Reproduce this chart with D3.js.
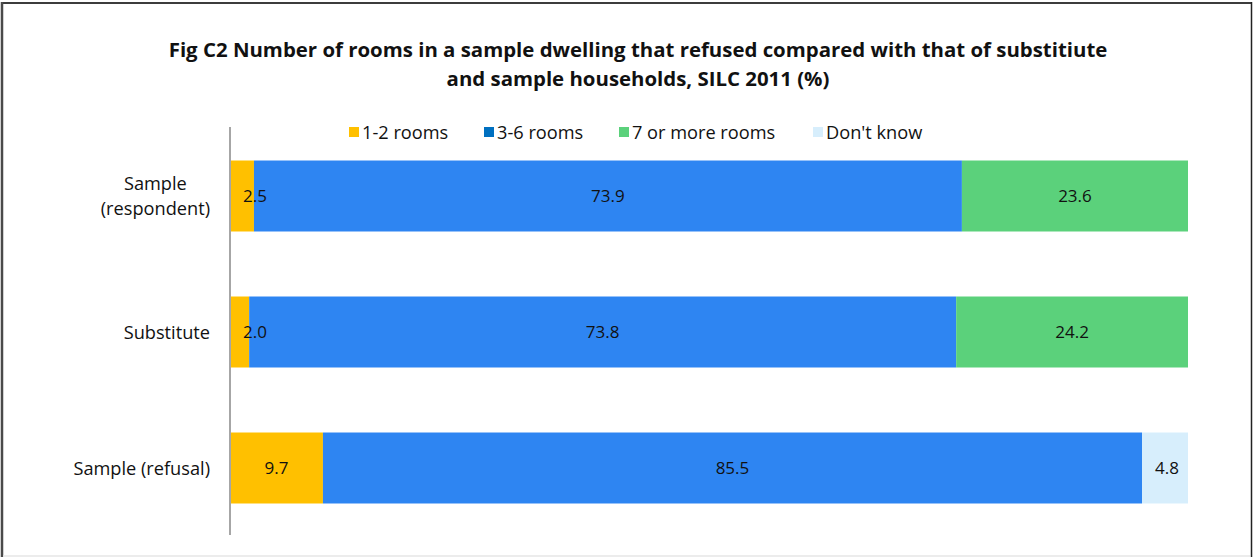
<!DOCTYPE html>
<html>
<head>
<meta charset="utf-8">
<script src="https://cdn.jsdelivr.net/npm/d3@7"></script>
<style>
  html, body { margin: 0; padding: 0; background: #fff; }
  svg { display: block; font-family: "Open Sans", "Noto Sans", sans-serif; }
</style>
</head>
<body>
<svg id="chart" width="1253" height="557"></svg>
<script>
// Categories (top to bottom) and the share of dwellings by number of rooms (%)
const categories = ["Sample\n(respondent)", "Substitute", "Sample (refusal)"];
const seriesNames = ["1-2 rooms", "3-6 rooms", "7 or more rooms", "Don't know"];
const rooms12 = [2.5, 2.0, 9.7];
const rooms36 = [73.9, 73.8, 85.5];
const rooms7plus = [23.6, 24.2, 0];
const dontKnow = [0, 0, 4.8];
const titleLines = [
  "Fig C2 Number of rooms in a sample dwelling that refused compared with that of substitiute",
  "and sample households, SILC 2011 (%)"
];

const barColors = ["#FFC000", "#2E85F2", "#5BD17B", "#D7EEFC"];
const legendColors = ["#FFC000", "#0070C0", "#5BD17B", "#D7EEFC"];

const svg = d3.select("#chart");
const W = 1253, H = 557;

// outer frame
svg.append("rect").attr("x", 0).attr("y", 0).attr("width", W).attr("height", H).attr("fill", "#fff");
svg.append("line").attr("x1", 2).attr("x2", 1252).attr("y1", 3).attr("y2", 3).attr("stroke", "#3c3c3c").attr("stroke-width", 2);
svg.append("line").attr("x1", 2).attr("x2", 2).attr("y1", 2).attr("y2", 557).attr("stroke", "#4a4a4a").attr("stroke-width", 2.5);
svg.append("line").attr("x1", 1251.5).attr("x2", 1251.5).attr("y1", 2).attr("y2", 557).attr("stroke", "#222").attr("stroke-width", 1.5);
svg.append("line").attr("x1", 3).attr("x2", 1250).attr("y1", 556).attr("y2", 556).attr("stroke", "#e6e6e6").attr("stroke-width", 1.5);

// title
svg.append("text")
  .attr("x", 638).attr("y", 57)
  .attr("text-anchor", "middle")
  .attr("font-weight", "bold")
  .attr("font-size", 20.4)
  .attr("fill", "#111")
  .selectAll("tspan").data(titleLines).join("tspan")
  .attr("x", 638)
  .attr("dy", (d, i) => i === 0 ? 0 : 29)
  .text(d => d);

// stacked rows
const rows = categories.map((c, i) => {
  const vals = [rooms12[i], rooms36[i], rooms7plus[i], dontKnow[i]];
  let acc = 0;
  return {
    category: c,
    segments: vals.map((v, k) => {
      const s = { key: seriesNames[k], k, value: v, x0: acc, x1: acc + v };
      acc += v;
      return s;
    })
  };
});

const x = d3.scaleLinear().domain([0, 100]).range([230, 1188]);
const y = d3.scaleBand().domain(categories).range([128, 536])
  .paddingInner(0.478).paddingOuter(0.239);

const rowG = svg.append("g").selectAll("g").data(rows).join("g")
  .attr("transform", d => `translate(0,${y(d.category)})`);

rowG.selectAll("rect").data(d => d.segments.filter(s => s.value > 0)).join("rect")
  .attr("x", s => x(s.x0))
  .attr("width", s => x(s.x1) - x(s.x0))
  .attr("y", 0)
  .attr("height", y.bandwidth())
  .attr("fill", s => barColors[s.k]);

// value labels: centred in each segment, kept clear of the axis for thin segments
rowG.selectAll("text").data(d => d.segments.filter(s => s.value > 0)).join("text")
  .attr("x", s => Math.max((x(s.x0) + x(s.x1)) / 2, x(s.x0) + 25))
  .attr("y", y.bandwidth() / 2 + 6)
  .attr("text-anchor", "middle")
  .attr("font-size", 17)
  .attr("fill", "#111")
  .text(s => s.value.toFixed(1));

// vertical category axis
const yAxis = d3.axisLeft(y).tickSize(0).tickFormat("");
const axisG = svg.append("g").attr("transform", "translate(230,0)").call(yAxis);
axisG.select(".domain").attr("stroke", "#a6a6a6").attr("stroke-width", 2)
  .attr("d", "M0,127V535");

// category labels (multi-line labels are centred on their longest line)
categories.forEach(c => {
  const lines = c.split("\n");
  const cy = y(c) + y.bandwidth() / 2;
  const t = svg.append("text")
    .attr("font-size", 18.2)
    .attr("fill", "#111");
  lines.forEach((ln, i) => {
    t.append("tspan").text(ln)
      .attr("y", cy + 6.5 + (i - (lines.length - 1) / 2) * 25);
  });
  const tsp = t.selectAll("tspan").nodes();
  const widths = tsp.map(n => n.getComputedTextLength());
  const maxW = d3.max(widths);
  const centre = 210 - maxW / 2;
  tsp.forEach((n, i) => d3.select(n).attr("x", centre - widths[i] / 2));
});

// legend
const legendX = [362, 497, 632, 826];
const lg = svg.append("g").selectAll("g").data(seriesNames).join("g")
  .attr("transform", (d, i) => `translate(${legendX[i]},132)`);
lg.append("rect").attr("x", -13).attr("y", -5).attr("width", 10).attr("height", 10)
  .attr("fill", (d, i) => legendColors[i]);
lg.append("text").attr("x", 0).attr("y", 6.5).attr("font-size", 18.2).attr("fill", "#111")
  .text(d => d);
</script>
</body>
</html>
